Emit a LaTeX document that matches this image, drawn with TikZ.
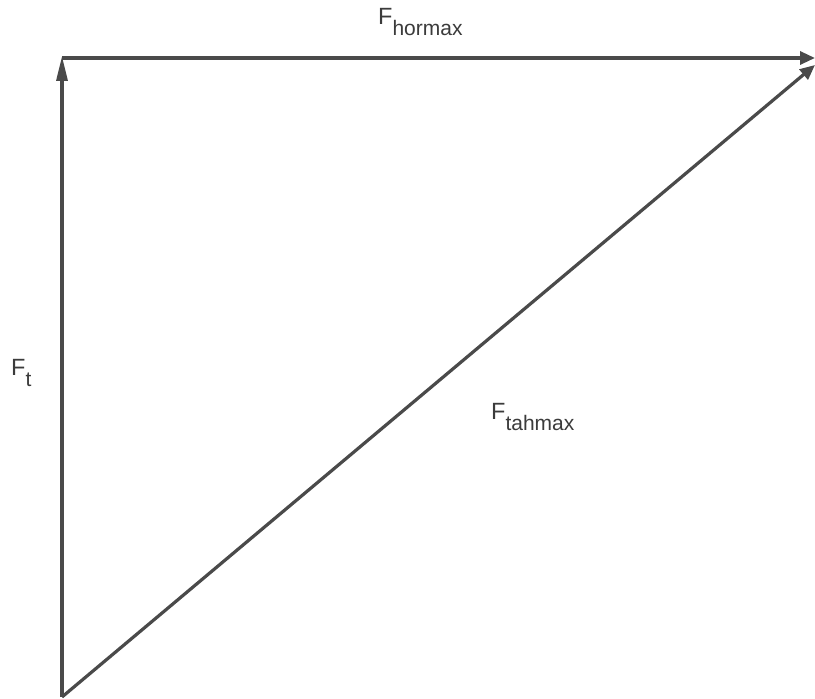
\documentclass[tikz,border=0pt]{standalone}
\usepackage{fontspec}
\setmainfont{Liberation Sans}
\usetikzlibrary{arrows.meta}
\definecolor{vecgray}{HTML}{4A4A4A}
\newcommand{\mainsize}{\fontsize{23.5}{28}\selectfont}
\newcommand{\subsize}{\fontsize{21}{25}\selectfont}
\begin{document}
\begin{tikzpicture}[x=1pt,y=1pt,line cap=butt,line join=miter,
    vec/.style={draw=vecgray,line width=3.2pt,-{Triangle[length=15pt,width=13pt]}},
    lbl/.style={anchor=base west,inner sep=0pt,text=vecgray!80!black}]
  \useasboundingbox (0,0) rectangle (815,699);

  % Corners of the force triangle.
  \coordinate (O) at (62,2);
  \coordinate (T) at (62,643);
  \coordinate (L) at (62,641);
  \coordinate (R) at (815,641);
  \coordinate (D) at (815,634);

  % The three force vectors.
  \draw[vec,-{Triangle[length=25pt,width=11pt]}] (O) -- (T);
  \draw[vec] (L) -- (R);
  \draw[vec] (O) -- (D);

  % Labels.
  \node[lbl] (hor) at (378,674) {\mainsize F\raisebox{-11pt}{\subsize hormax}};
  \node[lbl] (ft) at (11,323) {\mainsize F\raisebox{-11pt}{\subsize t}};
  \node[lbl] (tah) at (491,279) {\mainsize F\raisebox{-11pt}{\subsize tahmax}};
\end{tikzpicture}
\end{document}
